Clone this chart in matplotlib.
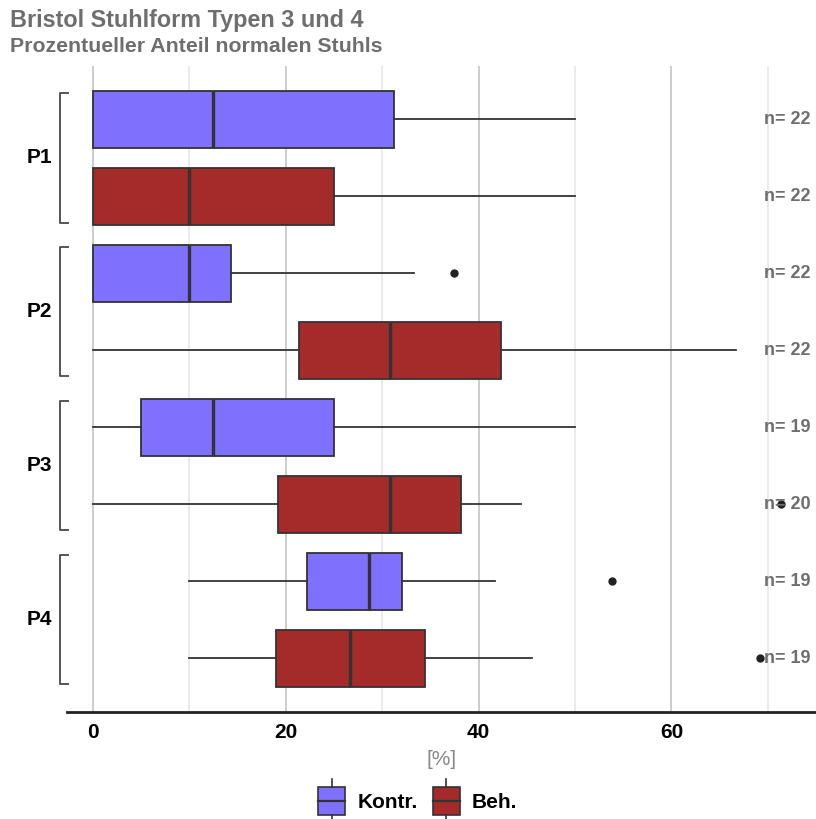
import matplotlib
matplotlib.use("Agg")
import matplotlib.pyplot as plt
import matplotlib.transforms as mtransforms
from matplotlib.patches import Rectangle
from matplotlib.lines import Line2D
from matplotlib.legend_handler import HandlerBase

plt.rcParams['font.family'] = ['Liberation Sans', 'DejaVu Sans']

# data (percent)
groups = ['P1', 'P2', 'P3', 'P4']
kontr_low = [0, 0, 0, 10]
kontr_q1 = [0, 0, 5, 22.2]
kontr_med = [12.5, 10, 12.5, 28.6]
kontr_q3 = [31.2, 14.3, 25, 32.1]
kontr_high = [50, 33.3, 50, 41.7]
kontr_out = [[], [37.5], [], [53.8]]
kontr_n = [22, 22, 19, 19]

beh_low = [0, 0, 0, 10]
beh_q1 = [0, 21.4, 19.2, 19.0]
beh_med = [10, 30.8, 30.8, 26.7]
beh_q3 = [25, 42.3, 38.2, 34.4]
beh_high = [50, 66.7, 44.4, 45.5]
beh_out = [[], [], [71.4], [69.2]]
beh_n = [22, 22, 20, 19]

kontr_color = '#8070fe'
beh_color = '#a52a2a'
edge = '#333333'
grey_text = '#6e6e6e'


def make_stats(low, q1, med, q3, high, out):
    return [dict(whislo=a, q1=b, med=c, q3=d, whishi=e, fliers=f)
            for a, b, c, d, e, f in zip(low, q1, med, q3, high, out)]


fig = plt.figure(figsize=(8.16, 8.19), dpi=100)
ax = fig.add_axes([0.082, 0.1306, 0.918, 0.7894])

k_pos = [2 * i for i in range(len(groups))]
b_pos = [2 * i + 1 for i in range(len(groups))]

common = dict(vert=False, widths=0.74, patch_artist=True, showcaps=False,
              whiskerprops=dict(color=edge, linewidth=1.3),
              medianprops=dict(color=edge, linewidth=2.4),
              flierprops=dict(marker='o', markerfacecolor='#222222',
                              markeredgecolor='#222222', markersize=5))

ax.bxp(make_stats(kontr_low, kontr_q1, kontr_med, kontr_q3, kontr_high, kontr_out),
       positions=k_pos, boxprops=dict(facecolor=kontr_color, edgecolor=edge, linewidth=1.3),
       **common)
ax.bxp(make_stats(beh_low, beh_q1, beh_med, beh_q3, beh_high, beh_out),
       positions=b_pos, boxprops=dict(facecolor=beh_color, edgecolor=edge, linewidth=1.3),
       **common)

ax.set_xlim(-2.7, 75)
ax.set_ylim(7.7, -0.7)
ax.set_yticks([])
ax.set_xticks([0, 20, 40, 60])
ax.set_xticks([10, 30, 50, 70], minor=True)
ax.grid(axis='x', which='major', color='#c4c4c4', linewidth=1.2, zorder=0)
ax.grid(axis='x', which='minor', color='#e8e8e8', linewidth=1.2, zorder=0)
ax.set_axisbelow(True)
for s in ['top', 'right', 'left']:
    ax.spines[s].set_visible(False)
ax.spines['bottom'].set_linewidth(2)
ax.spines['bottom'].set_color('#222222')
ax.tick_params(axis='x', which='both', length=0, pad=8, labelsize=15)
ax.tick_params(axis='x', which='minor', labelbottom=False)
for lab in ax.get_xticklabels():
    lab.set_fontweight('bold')
ax.set_xlabel('[%]', fontsize=15, color='#888888', labelpad=6)

# n= labels
for i in range(len(groups)):
    ax.text(72, k_pos[i], f'n= {kontr_n[i]}', ha='center', va='center',
            fontsize=13, fontweight='bold', color=grey_text)
    ax.text(72, b_pos[i], f'n= {beh_n[i]}', ha='center', va='center',
            fontsize=13, fontweight='bold', color=grey_text)

# group brackets on the left
trans = mtransforms.blended_transform_factory(fig.transFigure, ax.transData)
xv = 60 / 816
xt = 68 / 816
for i, g in enumerate(groups):
    top = k_pos[i] - 0.34
    bot = b_pos[i] + 0.34
    ax.plot([xt, xv, xv, xt], [top, top, bot, bot], transform=trans,
            color='#555555', linewidth=1.4, clip_on=False)
    ax.text(39 / 816, (k_pos[i] + b_pos[i]) / 2, g, transform=trans,
            ha='center', va='center', fontsize=15, fontweight='bold')

# titles
fig.text(10 / 816, 1 - 20 / 819, 'Bristol Stuhlform Typen 3 und 4', fontsize=16.8,
         fontweight='bold', color=grey_text, va='center')
fig.text(10 / 816, 1 - 47 / 819, 'Prozentueller Anteil normalen Stuhls', fontsize=15.3,
         fontweight='bold', color=grey_text, va='center')


class BoxHandler(HandlerBase):
    def create_artists(self, legend, orig_handle, xdescent, ydescent, width, height, fontsize, trans):
        w = width
        h = 20
        x0 = -xdescent
        cx = x0 + w / 2
        y0 = -ydescent + height / 2 - h / 2
        rect = Rectangle((x0, y0), w, h, facecolor=orig_handle.get_facecolor(),
                         edgecolor=edge, linewidth=1.2, transform=trans)
        med = Line2D([x0, x0 + w], [y0 + h / 2] * 2, color=edge, linewidth=1.6,
                     transform=trans)
        wt = Line2D([cx, cx], [y0 + h, y0 + h + 6], color=edge, linewidth=1.2, transform=trans)
        wb = Line2D([cx, cx], [y0, y0 - 6], color=edge, linewidth=1.2, transform=trans)
        return [rect, med, wt, wb]


h1 = Rectangle((0, 0), 1, 1, facecolor=kontr_color)
h2 = Rectangle((0, 0), 1, 1, facecolor=beh_color)
fig.legend([h1, h2], ['Kontr.', 'Beh.'], loc='center', bbox_to_anchor=(0.512, 1 - 803 / 819),
           ncol=2, frameon=False, handler_map={Rectangle: BoxHandler()},
           prop=dict(size=15, weight='bold'), handlelength=1.3, columnspacing=0.7,
           handletextpad=0.6)

fig.savefig('out.png', dpi=100)
